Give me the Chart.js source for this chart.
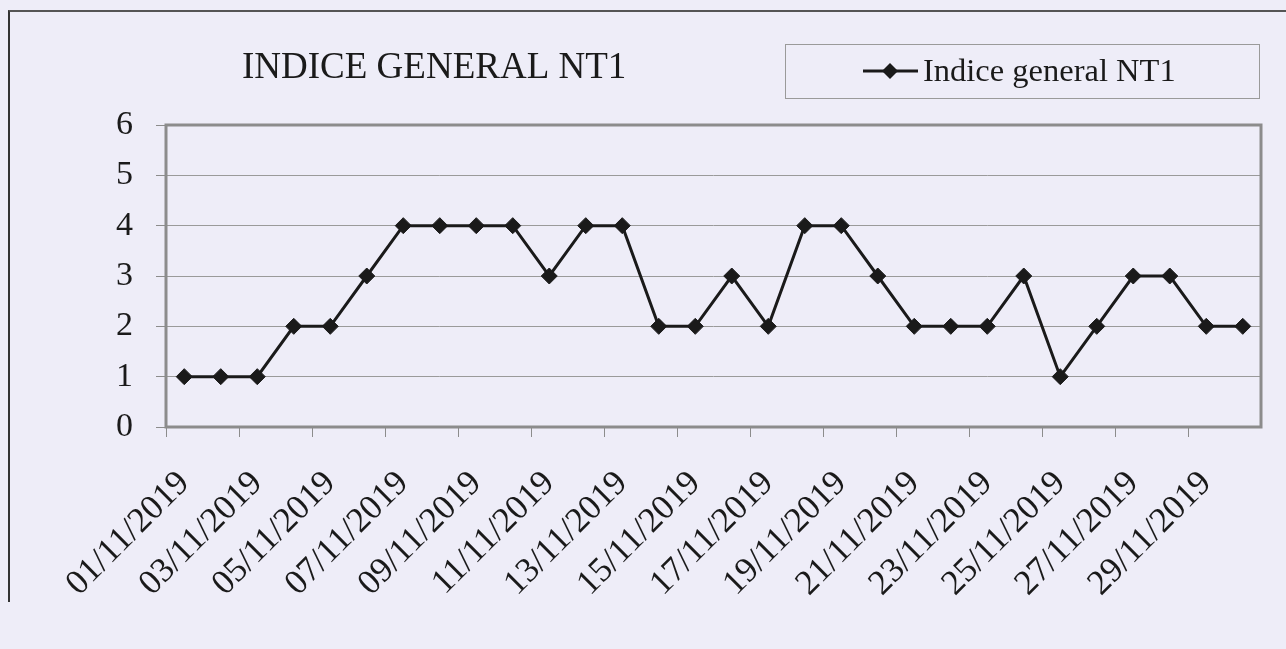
<!DOCTYPE html>
<html>
<head>
<meta charset="utf-8">
<script src="https://cdn.jsdelivr.net/npm/chart.js@4"></script>
<style>
  html, body { margin: 0; padding: 0; background: #eeedf8; }
  #wrap { position: relative; width: 1286px; height: 649px; overflow: hidden; }
  #frame { position: absolute; left: 8px; top: 10px; width: 1300px; height: 590px;
           border-left: 2px solid #333; border-top: 2px solid #555; }
  canvas { position: absolute; left: 0; top: 0; }
</style>
</head>
<body>
<div id="wrap">
  <div id="frame"></div>
  <canvas id="indiceChart" width="1286" height="649"></canvas>
</div>
<script>
const chartTitle = "INDICE GENERAL NT1";
const seriesName = "Indice general NT1";
const days = [
  "01/11/2019", "02/11/2019", "03/11/2019", "04/11/2019", "05/11/2019",
  "06/11/2019", "07/11/2019", "08/11/2019", "09/11/2019", "10/11/2019",
  "11/11/2019", "12/11/2019", "13/11/2019", "14/11/2019", "15/11/2019",
  "16/11/2019", "17/11/2019", "18/11/2019", "19/11/2019", "20/11/2019",
  "21/11/2019", "22/11/2019", "23/11/2019", "24/11/2019", "25/11/2019",
  "26/11/2019", "27/11/2019", "28/11/2019", "29/11/2019", "30/11/2019"
];
const indice = [1, 1, 1, 2, 2, 3, 4, 4, 4, 4, 3, 4, 4, 2, 2, 3, 2, 4, 4, 3, 2, 2, 2, 3, 1, 2, 3, 3, 2, 2];
const yTicks = [0, 1, 2, 3, 4, 5, 6];

const serif = "'Liberation Serif', 'Times New Roman', serif";
const ink = "#1a1a1a";

// title, legend box and plot frame drawn by hand
const decor = {
  id: "decor",
  afterDraw(chart) {
    const c = chart.ctx;
    const a = chart.chartArea;
    c.save();
    c.strokeStyle = "#8c8c8c";
    c.lineWidth = 3;
    c.strokeRect(a.left, a.top, a.right - a.left, a.bottom - a.top);

    c.fillStyle = ink;
    c.font = "37px " + serif;
    c.textBaseline = "alphabetic";
    c.textAlign = "left";
    c.fillText(chartTitle, 242, 78);

    c.strokeStyle = "#9a9a9a";
    c.lineWidth = 1;
    c.strokeRect(785.5, 44.5, 474, 54);

    c.strokeStyle = ink;
    c.lineWidth = 3;
    c.beginPath();
    c.moveTo(863, 71);
    c.lineTo(918, 71);
    c.stroke();
    c.beginPath();
    c.moveTo(890, 63); c.lineTo(898, 71); c.lineTo(890, 79); c.lineTo(882, 71);
    c.closePath();
    c.fill();
    c.font = "32.5px " + serif;
    c.fillText(seriesName, 923, 81);
    c.restore();
  }
};

new Chart(document.getElementById("indiceChart"), {
  type: "line",
  data: {
    labels: days,
    datasets: [{
      label: seriesName,
      data: indice,
      borderColor: ink,
      backgroundColor: ink,
      borderWidth: 3,
      pointStyle: "rectRot",
      pointRadius: 8,
      pointBorderWidth: 1,
      tension: 0,
      fill: false
    }]
  },
  options: {
    responsive: false,
    animation: false,
    layout: { padding: { left: 0, top: 125, right: 25, bottom: 0 } },
    plugins: {
      legend: { display: false },
      title: { display: false },
      tooltip: { enabled: false }
    },
    scales: {
      x: {
        offset: true,
        afterFit(scale) {
          scale.height = 649 - 427;
          scale.paddingLeft = 0;
          scale.paddingRight = 0;
        },
        grid: {
          offset: true,
          drawOnChartArea: false,
          tickLength: 10,
          tickColor: ctx => (ctx.index % 2 === 0 ? "#8c8c8c" : "rgba(0,0,0,0)")
        },
        border: { display: false },
        ticks: {
          autoSkip: false,
          minRotation: 45,
          maxRotation: 45,
          padding: 26,
          color: ink,
          font: { family: serif, size: 35 },
          callback: (v, i) => (i % 2 === 0 ? days[i] : "")
        }
      },
      y: {
        min: 0,
        max: 6,
        afterFit(scale) { scale.width = 166; },
        afterBuildTicks(scale) { scale.ticks = yTicks.map(v => ({ value: v })); },
        grid: { color: "#9a9a9a", lineWidth: 1, tickLength: 10, tickColor: "#8c8c8c" },
        border: { display: false },
        ticks: {
          padding: 23,
          color: ink,
          font: { family: serif, size: 34 }
        }
      }
    }
  },
  plugins: [decor]
});
</script>
</body>
</html>
